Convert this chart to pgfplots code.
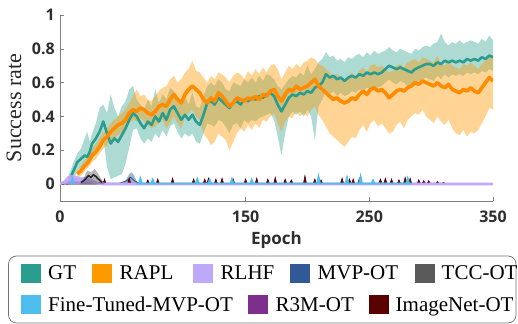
\documentclass[border=0pt]{standalone}
\usepackage{pgfplots}
\pgfplotsset{compat=1.18}
\usepackage{pgfplotstable}
\usepgfplotslibrary{fillbetween}
\usepackage{fontspec}
\setmainfont{Liberation Serif}
\newfontfamily\ossans{Open Sans}

\definecolor{gtc}{RGB}{42,157,143}
\definecolor{raplc}{RGB}{255,140,0}
\definecolor{raplb}{RGB}{255,153,0}
\definecolor{rlhfc}{RGB}{190,168,250}
\definecolor{mvpc}{RGB}{49,89,150}
\definecolor{tccc}{RGB}{40,40,40}
\definecolor{tccl}{RGB}{90,90,90}
\definecolor{ftc}{RGB}{77,190,238}
\definecolor{r3mc}{RGB}{126,47,142}
\definecolor{imc}{RGB}{90,0,0}

\pgfplotstableread{
e mean lo hi
5 0.00 0.00 0.02
8 0.03 0.00 0.07
11 0.08 0.03 0.13
14 0.13 0.08 0.18
17 0.15 0.10 0.21
20 0.17 0.11 0.27
22 0.16 0.10 0.31
24 0.19 0.13 0.25
26 0.24 0.17 0.30
29 0.27 0.20 0.36
32 0.31 0.24 0.45
35 0.37 0.28 0.47
38 0.30 0.10 0.42
41 0.24 0.03 0.53
44 0.27 0.04 0.45
47 0.25 0.05 0.40
50 0.29 0.06 0.46
53 0.33 0.12 0.49
56 0.38 0.22 0.56
59 0.42 0.32 0.58
62 0.40 0.33 0.50
65 0.36 0.27 0.47
68 0.33 0.24 0.44
71 0.37 0.27 0.50
74 0.35 0.25 0.46
77 0.40 0.30 0.56
80 0.37 0.27 0.48
83 0.42 0.32 0.53
86 0.38 0.28 0.50
89 0.44 0.34 0.57
92 0.46 0.36 0.55
95 0.42 0.31 0.52
98 0.38 0.27 0.48
101 0.41 0.30 0.52
104 0.38 0.28 0.47
107 0.41 0.30 0.54
110 0.37 0.25 0.46
113 0.35 0.24 0.45
116 0.41 0.30 0.52
119 0.48 0.36 0.58
122 0.49 0.35 0.60
125 0.47 0.34 0.58
128 0.51 0.38 0.62
131 0.49 0.37 0.60
134 0.47 0.34 0.56
137 0.45 0.30 0.55
140 0.48 0.35 0.60
143 0.49 0.36 0.59
146 0.47 0.33 0.58
149 0.50 0.38 0.62
152 0.49 0.36 0.60
155 0.51 0.38 0.63
158 0.50 0.37 0.60
161 0.52 0.39 0.64
164 0.51 0.40 0.61
167 0.53 0.41 0.65
170 0.54 0.42 0.64
173 0.52 0.38 0.62
176 0.47 0.28 0.58
179 0.43 0.17 0.56
182 0.47 0.30 0.59
185 0.51 0.40 0.62
188 0.53 0.43 0.64
191 0.52 0.41 0.63
194 0.54 0.43 0.66
197 0.53 0.40 0.64
200 0.55 0.44 0.70
203 0.54 0.40 0.65
206 0.57 0.26 0.68
209 0.58 0.46 0.72
212 0.60 0.50 0.74
215 0.65 0.55 0.78
218 0.63 0.53 0.75
221 0.64 0.55 0.76
224 0.62 0.52 0.73
227 0.63 0.54 0.74
230 0.61 0.52 0.72
233 0.63 0.53 0.75
236 0.64 0.55 0.74
239 0.63 0.54 0.76
242 0.65 0.56 0.77
245 0.64 0.55 0.75
248 0.66 0.57 0.78
251 0.65 0.56 0.76
254 0.66 0.58 0.79
257 0.65 0.57 0.77
260 0.66 0.58 0.78
263 0.68 0.60 0.79
266 0.70 0.62 0.81
269 0.69 0.60 0.79
272 0.68 0.59 0.78
275 0.69 0.61 0.80
278 0.68 0.60 0.79
281 0.67 0.58 0.78
284 0.66 0.57 0.77
287 0.68 0.59 0.80
290 0.69 0.61 0.79
293 0.70 0.62 0.81
296 0.71 0.63 0.82
299 0.71 0.62 0.81
302 0.70 0.61 0.83
305 0.72 0.64 0.84
308 0.71 0.62 0.89
311 0.73 0.65 0.84
314 0.72 0.63 0.82
317 0.73 0.65 0.84
320 0.72 0.64 0.83
323 0.73 0.65 0.85
326 0.72 0.64 0.83
329 0.74 0.66 0.84
332 0.73 0.65 0.85
335 0.74 0.66 0.84
338 0.73 0.65 0.83
341 0.75 0.67 0.86
344 0.74 0.66 0.84
347 0.76 0.68 0.88
350 0.75 0.67 0.85
}\gtdata

\pgfplotstableread{
e mean lo hi
14 0.06 0.04 0.08
17 0.08 0.05 0.11
20 0.11 0.08 0.14
23 0.13 0.10 0.17
26 0.17 0.13 0.21
29 0.19 0.15 0.24
32 0.22 0.18 0.27
35 0.26 0.21 0.31
38 0.28 0.23 0.33
41 0.31 0.26 0.36
44 0.33 0.27 0.38
47 0.35 0.29 0.40
50 0.36 0.30 0.42
53 0.38 0.32 0.44
56 0.42 0.36 0.48
59 0.44 0.38 0.52
62 0.43 0.37 0.56
65 0.45 0.39 0.52
68 0.44 0.37 0.53
71 0.42 0.35 0.50
74 0.41 0.33 0.49
77 0.43 0.34 0.52
80 0.46 0.36 0.55
83 0.47 0.38 0.57
86 0.46 0.33 0.58
89 0.50 0.36 0.62
92 0.53 0.40 0.64
95 0.50 0.36 0.60
98 0.48 0.33 0.62
101 0.53 0.40 0.66
104 0.56 0.42 0.68
107 0.58 0.44 0.73
110 0.56 0.40 0.67
113 0.54 0.38 0.66
116 0.50 0.30 0.63
119 0.48 0.27 0.60
122 0.51 0.23 0.64
125 0.49 0.25 0.62
128 0.54 0.30 0.66
131 0.52 0.28 0.65
134 0.49 0.26 0.63
137 0.46 0.20 0.60
140 0.48 0.25 0.64
143 0.51 0.30 0.66
146 0.50 0.33 0.65
149 0.49 0.31 0.62
152 0.51 0.35 0.67
155 0.50 0.32 0.64
158 0.52 0.36 0.68
161 0.50 0.33 0.65
164 0.53 0.38 0.69
167 0.52 0.37 0.66
170 0.55 0.40 0.70
173 0.56 0.42 0.71
176 0.52 0.36 0.68
179 0.49 0.31 0.62
182 0.53 0.37 0.66
185 0.56 0.40 0.70
188 0.55 0.39 0.68
191 0.58 0.43 0.71
194 0.56 0.40 0.69
197 0.57 0.42 0.72
200 0.58 0.40 0.73
203 0.60 0.44 0.75
206 0.62 0.46 0.74
209 0.58 0.41 0.71
212 0.56 0.38 0.70
215 0.54 0.34 0.68
218 0.52 0.30 0.66
221 0.50 0.28 0.64
224 0.51 0.26 0.65
227 0.49 0.24 0.63
230 0.48 0.22 0.62
233 0.49 0.25 0.64
236 0.51 0.28 0.66
239 0.50 0.27 0.63
242 0.53 0.32 0.67
245 0.55 0.35 0.69
248 0.53 0.31 0.66
251 0.56 0.36 0.70
254 0.57 0.38 0.71
257 0.55 0.34 0.69
260 0.56 0.36 0.70
263 0.54 0.33 0.68
266 0.51 0.30 0.66
269 0.53 0.31 0.67
272 0.55 0.35 0.70
275 0.56 0.37 0.71
278 0.55 0.33 0.69
281 0.57 0.38 0.72
284 0.58 0.40 0.73
287 0.60 0.42 0.74
290 0.59 0.41 0.72
293 0.61 0.44 0.75
296 0.60 0.40 0.74
299 0.59 0.38 0.73
302 0.58 0.36 0.72
305 0.60 0.40 0.76
308 0.58 0.37 0.71
311 0.57 0.35 0.70
314 0.59 0.38 0.73
317 0.56 0.33 0.70
320 0.55 0.30 0.69
323 0.54 0.29 0.68
326 0.56 0.32 0.71
329 0.55 0.28 0.70
332 0.57 0.31 0.72
335 0.55 0.30 0.70
338 0.54 0.32 0.68
341 0.57 0.36 0.71
344 0.60 0.40 0.73
347 0.63 0.45 0.76
350 0.61 0.44 0.74
}\rapldata

\begin{document}
\begin{tikzpicture}
\begin{axis}[
  at={(60bp,123bp)}, anchor=south west,
  scale only axis, width=433bp, height=186bp,
  xmin=0, xmax=350, ymin=-0.1, ymax=1,
  axis x line*=bottom, axis y line*=left,
  axis line style={-, draw=black!50, line width=0.6bp},
  tick style={draw=black!50, line width=0.6bp},
  tick align=inside, major tick length=4bp,
  xtick={0,150,250,350}, xticklabels={0,150,250,350},
  ytick={0,0.2,0.4,0.6,0.8,1}, yticklabels={0,0.2,0.4,0.6,0.8,1},
  ticklabel style={font=\ossans\bfseries\fontsize{16bp}{18bp}\selectfont, text=black!82},
  xticklabel style={anchor=north, inner sep=0pt, yshift=-10bp},
  yticklabel style={anchor=east, inner sep=0pt, xshift=-5bp},
  xlabel={Epoch},
  xlabel style={font=\ossans\bfseries\fontsize{17bp}{20bp}\selectfont, text=black!82,
    at={(axis description cs:0.5,0)}, anchor=base, yshift=-44bp},
  ylabel={Success rate},
  ylabel style={font=\fontsize{22bp}{24bp}\selectfont, text=black!85,
    at={(axis description cs:0,0.5)}, anchor=base, yshift=39bp},
]
% GT band and mean
\addplot[draw=none, name path=gthi, forget plot] table[x=e, y=hi]{\gtdata};
\addplot[draw=none, name path=gtlo, forget plot] table[x=e, y=lo]{\gtdata};
\addplot[fill=gtc, fill opacity=0.38, draw=none, forget plot] fill between[of=gthi and gtlo];
\addplot[gtc, line width=2.6bp, line join=round] table[x=e, y=mean]{\gtdata};
% RAPL band and mean
\addplot[draw=none, name path=rphi, forget plot] table[x=e, y=hi]{\rapldata};
\addplot[draw=none, name path=rplo, forget plot] table[x=e, y=lo]{\rapldata};
\addplot[fill=raplb, fill opacity=0.42, draw=none, forget plot] fill between[of=rphi and rplo];
\addplot[raplc, line width=3.6bp, line join=round] table[x=e, y=mean]{\rapldata};
% MVP-OT
\addplot[fill=mvpc, fill opacity=0.45, draw=none] coordinates {
(50,0.0) (53,0.02) (56,0.06) (58,0.07) (60,0.05) (63,0.0)} \closedcycle;
\addplot[mvpc, line width=1bp] coordinates {
(48,0.004) (54,0.02) (57,0.04) (60,0.02) (64,0.004)};
% R3M-OT
\addplot[r3mc, line width=0.8bp] coordinates {
(28,0.004) (33,0.012) (38,0.004)};
% ImageNet-OT
\addplot[fill=imc, draw=imc, line width=0.6bp] coordinates {
(2,0.003) (5,0.014) (10,0.018) (15,0.013) (20,0.015) (25,0.012) (30,0.006)
(34.8,0.005) (36,0.03) (37.2,0.005)
(54.8,0.005) (56,0.035) (57.2,0.005)
(69.8,0.005) (71,0.025) (72.2,0.005)
(77.8,0.005) (79,0.03) (80.2,0.005)
(89.8,0.005) (91,0.035) (92.2,0.005)
(106.8,0.005) (108,0.03) (109.2,0.005)
(115.8,0.005) (117,0.03) (118.2,0.005)
(118.8,0.005) (120,0.035) (121.2,0.005)
(124.8,0.005) (126,0.03) (127.2,0.005)
(129.8,0.005) (131,0.035) (132.2,0.005)
(138.8,0.005) (140,0.03) (141.2,0.005)
(148.8,0.005) (150,0.03) (151.2,0.005)
(157.8,0.005) (159,0.035) (160.2,0.005)
(166.8,0.005) (168,0.03) (169.2,0.005)
(172.8,0.005) (174,0.04) (175.2,0.005)
(180.8,0.005) (182,0.03) (183.2,0.005)
(185.8,0.005) (187,0.025) (188.2,0.005)
(196.8,0.005) (198,0.05) (199.2,0.005)
(204.8,0.005) (206,0.03) (207.2,0.005)
(209.8,0.005) (211,0.025) (212.2,0.005)
(226.8,0.005) (228,0.035) (229.2,0.005)
(232.8,0.005) (234,0.03) (235.2,0.005)
(235.8,0.005) (237,0.03) (238.2,0.005)
(240.8,0.005) (242,0.035) (243.2,0.005)
(257.8,0.005) (259,0.03) (260.2,0.005)
(261.8,0.005) (263,0.035) (264.2,0.005)
(266.8,0.005) (268,0.03) (269.2,0.005)
(272.8,0.005) (274,0.025) (275.2,0.005)
(277.8,0.005) (279,0.04) (280.2,0.005)
(281.8,0.005) (283,0.035) (284.2,0.005)
(288.8,0.005) (290,0.025) (291.2,0.005)
(292.8,0.005) (294,0.02) (295.2,0.005)
(296.8,0.005) (298,0.02) (299.2,0.005)
(303.8,0.005) (305,0.015) (306.2,0.005)
(308.8,0.005) (310,0.01) (311.2,0.005)
(315,0.004)} \closedcycle;
% RLHF
\addplot[fill=rlhfc, fill opacity=0.85, draw=none] coordinates {
(0,0.004) (3,0.02) (6,0.045) (9,0.055) (12,0.05) (15,0.045) (18,0.04) (21,0.045) (24,0.035) (27,0.025) (30,0.012) (33,0.004)} \closedcycle;
\addplot[rlhfc, line width=2.8bp] coordinates {
(0,0.003) (4,0.012) (8,0.028) (12,0.03) (16,0.026) (20,0.028) (24,0.02) (28,0.01) (32,0.002) (40,0.0) (350,0.0)};
% TCC-OT
\addplot[fill=tccl, fill opacity=0.45, draw=none] coordinates {
(16,0.0) (19,0.03) (22,0.08) (25,0.07) (28,0.09) (31,0.06) (34,0.02) (36,0.0)} \closedcycle;
\addplot[tccc, line width=1.6bp] coordinates {
(17,0.01) (20,0.025) (23,0.05) (25,0.04) (27,0.055) (29,0.045) (31,0.03) (34,0.01)};
% Fine-Tuned-MVP-OT
\addplot[fill=ftc, draw=ftc, line width=0.6bp] coordinates {
(8.5,0.006) (10,0.04) (11.5,0.006)} \closedcycle;
\addplot[fill=ftc, draw=ftc, line width=0.6bp] coordinates {
(62,0.006) (63.5,0.006) (65,0.045) (66.5,0.006)
(73.5,0.006) (75,0.035) (76.5,0.006)
(109.5,0.006) (111,0.04) (112.5,0.006)
(119.5,0.006) (121,0.035) (122.5,0.006)
(137.5,0.006) (139,0.04) (140.5,0.006)
(153.5,0.006) (155,0.035) (156.5,0.006)
(207.5,0.006) (209,0.06) (210.5,0.006)
(230.5,0.006) (232,0.05) (233.5,0.006)
(241.5,0.006) (243,0.06) (244.5,0.006)
(251.5,0.006) (253,0.03) (254.5,0.006)
(279.5,0.006) (281,0.045) (282.5,0.006)
(284,0.006)} \closedcycle;
\end{axis}
% legend
\draw[black!55, line width=0.7bp, rounded corners=8bp] (8.5bp,1bp) rectangle (516bp,68bp);
\begin{scope}[every node/.style={anchor=base west, inner sep=0pt, font=\fontsize{21bp}{23bp}\selectfont}]
\node at (20.5bp,44bp) {\textcolor{gtc}{\rule[-3bp]{20bp}{19bp}}\hspace{7.5bp}GT};
\node at (92bp,44bp) {\textcolor{raplb}{\rule[-3bp]{20bp}{19bp}}\hspace{7.5bp}RAPL};
\node at (193bp,44bp) {\textcolor{rlhfc}{\rule[-3bp]{20bp}{19bp}}\hspace{7.5bp}RLHF};
\node at (290bp,44bp) {\textcolor{mvpc}{\rule[-3bp]{20bp}{19bp}}\hspace{7.5bp}MVP-OT};
\node at (415bp,44bp) {\textcolor{tccl}{\rule[-3bp]{20bp}{19bp}}\hspace{6.5bp}TCC-OT};
\node at (20.5bp,13bp) {\textcolor{ftc}{\rule[-3bp]{20bp}{19bp}}\hspace{7.5bp}Fine-Tuned-MVP-OT};
\node at (248bp,13bp) {\textcolor{r3mc}{\rule[-3bp]{20bp}{19bp}}\hspace{7.5bp}R3M-OT};
\node at (369bp,13bp) {\textcolor{imc}{\rule[-3bp]{20bp}{19bp}}\hspace{6.5bp}ImageNet-OT};
\end{scope}
\path (0,0) rectangle (518bp,324bp);
\end{tikzpicture}
\end{document}
